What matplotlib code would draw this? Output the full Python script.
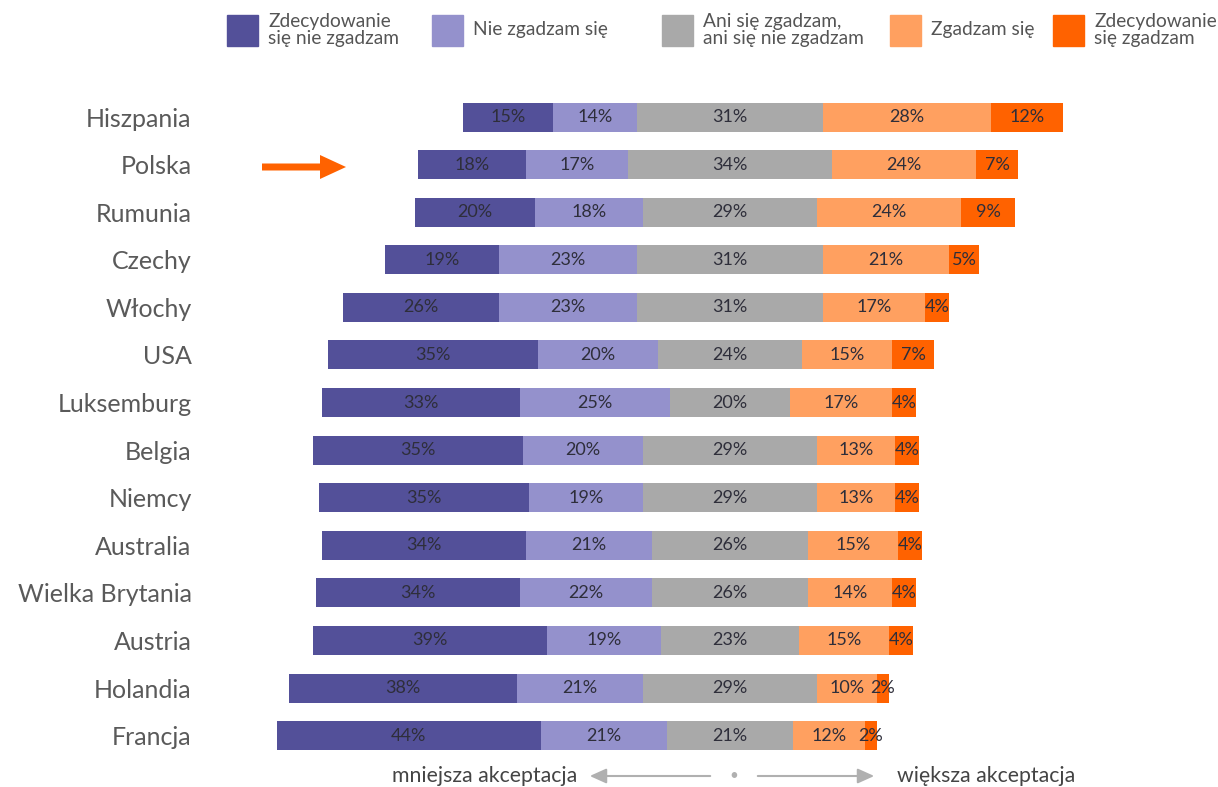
import numpy as np
import matplotlib.pyplot as plt
from matplotlib.patches import Rectangle, FancyArrow

plt.rcParams['font.family'] = ['Lato', 'DejaVu Sans']

countries = ['Hiszpania', 'Polska', 'Rumunia', 'Czechy', 'Włochy', 'USA', 'Luksemburg',
             'Belgia', 'Niemcy', 'Australia', 'Wielka Brytania', 'Austria', 'Holandia', 'Francja']
strongly_disagree = [15, 18, 20, 19, 26, 35, 33, 35, 35, 34, 34, 39, 38, 44]
disagree = [14, 17, 18, 23, 23, 20, 25, 20, 19, 21, 22, 19, 21, 21]
neutral = [31, 34, 29, 31, 31, 24, 20, 29, 29, 26, 26, 23, 29, 21]
agree = [28, 24, 24, 21, 17, 15, 17, 13, 13, 15, 14, 15, 10, 12]
strongly_agree = [12, 7, 9, 5, 4, 7, 4, 4, 4, 4, 4, 4, 2, 2]

categories = ['Zdecydowanie\nsię nie zgadzam', 'Nie zgadzam się',
              'Ani się zgadzam,\nani się nie zgadzam', 'Zgadzam się',
              'Zdecydowanie\nsię zgadzam']
colors = ['#535099', '#9491cc', '#a9a9a9', '#ffa060', '#ff6200']

series = [strongly_disagree, disagree, neutral, agree, strongly_agree]
data = np.array(series, dtype=float)

fig = plt.figure(figsize=(12.18, 7.87), dpi=100)
ax = fig.add_axes([200 / 1218, 0, 1 - 200 / 1218, 1])

y = np.arange(len(countries))
# bars are centred on the middle of the neutral segment
left = -(data[0] + data[1] + data[2] / 2)
for vals, col in zip(data, colors):
    bars = ax.barh(y, vals, left=left, height=0.61, color=col, edgecolor='none')
    ax.bar_label(bars, labels=[f'{int(v)}%' for v in vals], label_type='center',
                 fontsize=13, color='#2e2e3a')
    left = left + vals

ax.set_xlim(-88.3, 81.3)
ax.set_ylim(14.08, -2.46)
ax.set_yticks(y)
ax.set_yticklabels(countries, fontsize=18, color='#5a5a5a')
ax.tick_params(axis='y', length=0, pad=6)
ax.set_xticks([])
for s in ax.spines.values():
    s.set_visible(False)

# legend across the top
leg_x = [227, 432, 662, 890, 1053]
for lx, col, lab in zip(leg_x, colors, categories):
    fig.patches.append(Rectangle((lx / 1218, 1 - 46 / 787), 31 / 1218, 31 / 787,
                                 transform=fig.transFigure, color=col))
    fig.text((lx + 41) / 1218, 1 - 30 / 787, lab, fontsize=13.8, color='#555555',
             va='center', ha='left', linespacing=0.95)

# arrow pointing at Polska
fig.patches.append(FancyArrow(262 / 1218, 1 - 167 / 787, 58 / 1218, 0,
                              width=7 / 787, head_width=24 / 787, head_length=26 / 1218,
                              length_includes_head=False, transform=fig.transFigure,
                              color='#ff6200', lw=0))

# acceptance scale at the bottom
yb = 1 - 776 / 787
fig.text(577 / 1218, yb, 'mniejsza akceptacja', fontsize=15.3, color='#444444',
         ha='right', va='center')
fig.text(897 / 1218, yb, 'większa akceptacja', fontsize=15.3, color='#444444',
         ha='left', va='center')
ax.annotate('', xy=(587 / 1218, yb), xytext=(713 / 1218, yb), xycoords='figure fraction',
            arrowprops=dict(arrowstyle='-|>,head_length=1.0,head_width=0.45',
                            color='#b0b0b0', lw=1.5))
ax.annotate('', xy=(877 / 1218, yb), xytext=(755 / 1218, yb), xycoords='figure fraction',
            arrowprops=dict(arrowstyle='-|>,head_length=1.0,head_width=0.45',
                            color='#b0b0b0', lw=1.5))
fig.text(734 / 1218, yb, '•', fontsize=11, color='#b0b0b0', ha='center', va='center')

fig.savefig('out.png', dpi=100, facecolor='white')
